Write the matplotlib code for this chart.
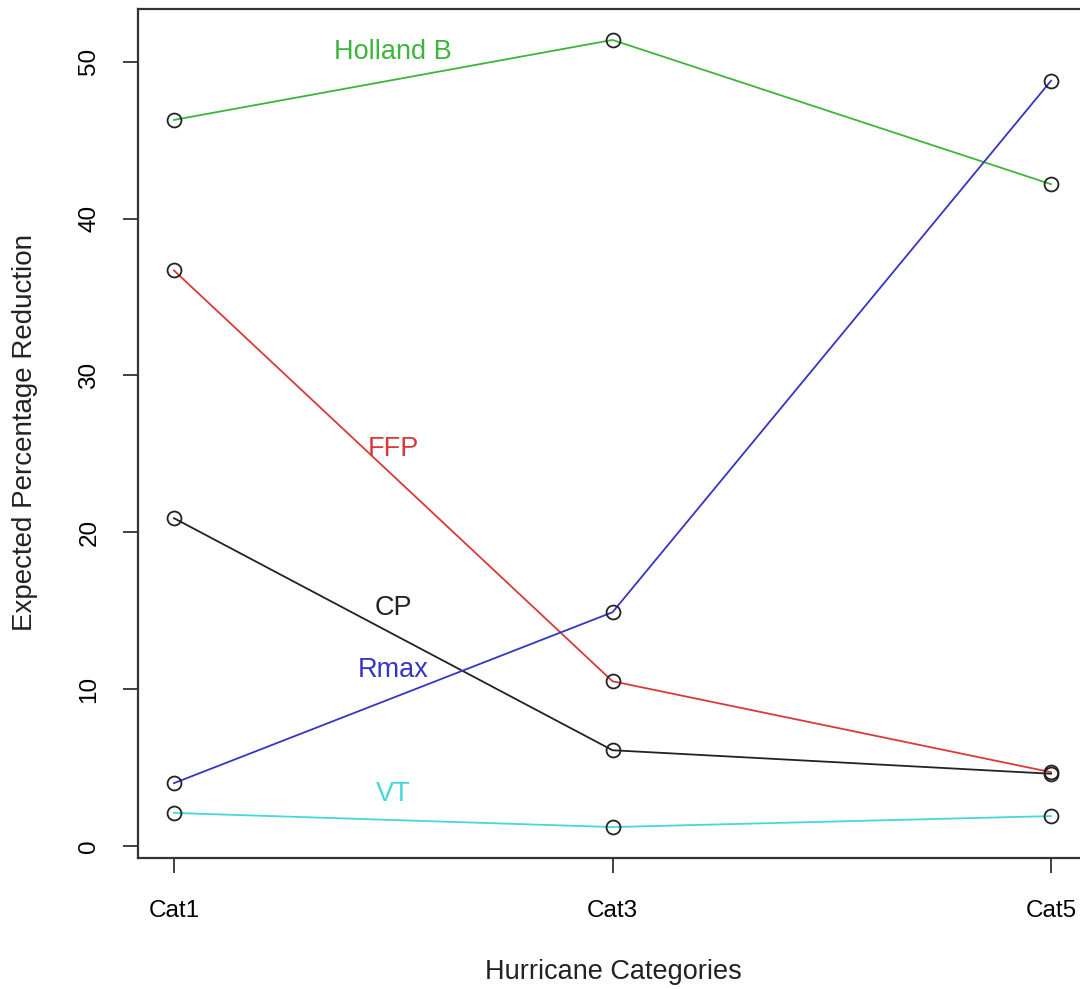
import matplotlib
matplotlib.use("Agg")
import matplotlib.pyplot as plt

plt.rcParams['font.family'] = ['Liberation Sans', 'DejaVu Sans']

# data
categories = ["Cat1", "Cat3", "Cat5"]
holland_b = [46.3, 51.4, 42.2]
ffp = [36.7, 10.5, 4.7]
cp = [20.9, 6.1, 4.6]
rmax = [4.0, 14.9, 48.8]
vt = [2.1, 1.2, 1.9]

series = [
    ("Holland B", holland_b, "#3cb53c", 50.6),
    ("FFP", ffp, "#d83a3a", 25.3),
    ("CP", cp, "#222222", 15.2),
    ("Rmax", rmax, "#3535c0", 11.2),
    ("VT", vt, "#45d8d8", 3.3),
]

fig = plt.figure(figsize=(10.8, 9.89), dpi=100)
# box runs off the right edge like the original
ax = fig.add_axes([138 / 1080, 0.1325, 949 / 1080, 0.8585])

x = [1, 2, 3]
for name, vals, col, ly in series:
    ax.plot(x, vals, color=col, lw=1.3, zorder=2)
    ax.plot(x, vals, ls="none", marker="o", ms=10, mfc="none",
            mec="#222222", mew=1.3, zorder=3)
    ax.text(1.5, ly, name, color=col, fontsize=19.5, ha="center", va="center")

ax.set_xlim(0.918, 3.082)
ax.set_ylim(-0.77, 53.38)
ax.set_xticks(x)
ax.set_xticklabels(categories, fontsize=17.5)
ax.set_yticks([0, 10, 20, 30, 40, 50])
ax.set_yticklabels(["0", "10", "20", "30", "40", "50"], fontsize=17.5,
                   rotation=90, va="center")
ax.tick_params(length=11, width=1.3, color="#333333")
ax.tick_params(axis="x", pad=19)
ax.tick_params(axis="y", pad=16)

for s in ax.spines.values():
    s.set_linewidth(1.6)
    s.set_color("#333333")

fig.text(613 / 1080, 1 - 972 / 989, "Hurricane Categories", fontsize=19.5,
         ha="center", va="center", color="#222222")
fig.text(25 / 1080, 1 - 432 / 989, "Expected Percentage Reduction",
         fontsize=20, ha="center", va="center", rotation=90, color="#222222")

fig.savefig("out.png", dpi=100)
